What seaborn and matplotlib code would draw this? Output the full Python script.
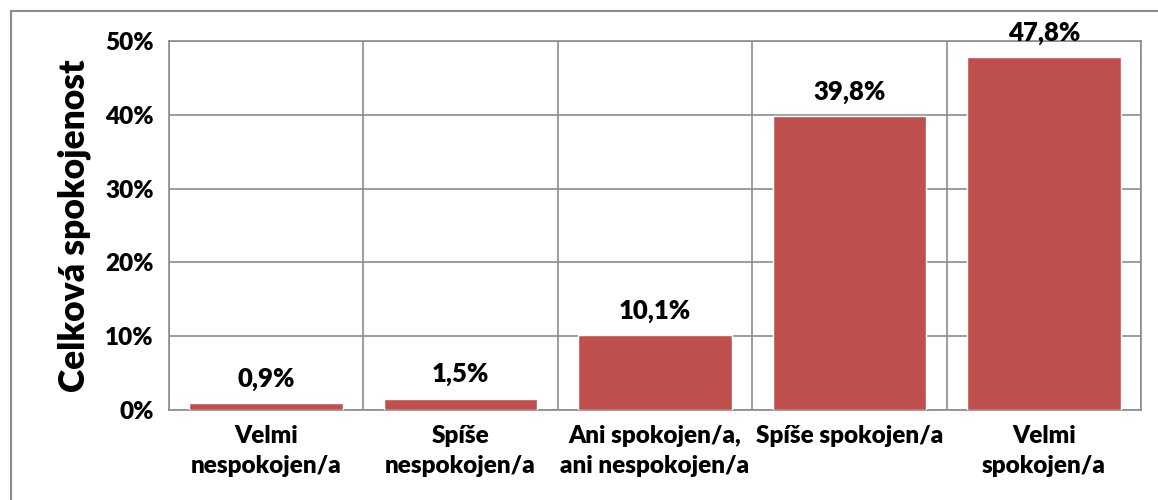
import numpy as np
import pandas as pd
import matplotlib
matplotlib.use('Agg')
from matplotlib import pyplot as plt
from matplotlib.patches import Rectangle
from matplotlib.ticker import PercentFormatter
import seaborn as sns

# values
categories = ['Velmi\nnespokojen/a', 'Spíše\nnespokojen/a', 'Ani spokojen/a,\nani nespokojen/a',
              'Spíše spokojen/a', 'Velmi\nspokojen/a']
shares = [0.009, 0.015, 0.101, 0.398, 0.478]
labels = ['0,9%', '1,5%', '10,1%', '39,8%', '47,8%']

df = pd.DataFrame({'kategorie': categories, 'podil': shares})

sns.set_style('white')
plt.rcParams['font.family'] = ['Lato', 'DejaVu Sans']
plt.rcParams['font.weight'] = 'bold'
plt.rcParams['text.color'] = 'black'
plt.rcParams['xtick.color'] = 'black'
plt.rcParams['ytick.color'] = 'black'
plt.rcParams['axes.labelcolor'] = 'black'

grid_col = '#8c8c8c'
fig = plt.figure(figsize=(11.58, 5), dpi=100)
ax = fig.add_axes([169/1158, 90/500, (1141-169)/1158, (410-41)/500])

sns.barplot(data=df, x='kategorie', y='podil', color='#C0504D', saturation=1,
            width=0.79, ax=ax, zorder=3)

# value labels over the bars
for i, (v, t) in enumerate(zip(shares, labels)):
    ax.annotate(t, (i, v), xytext=(0, 9), textcoords='offset points',
                ha='center', va='bottom', fontsize=18.5, fontweight='heavy',
                annotation_clip=False, zorder=5)

ax.set_xlim(-0.5, 4.5)
ax.set_ylim(0, 0.5)
ax.set_yticks(np.arange(0, 0.51, 0.1))
ax.yaxis.set_major_formatter(PercentFormatter(1.0, decimals=0))
ax.set_xticks(np.arange(-0.5, 4.6, 1.0), minor=True)
ax.grid(axis='y', which='major', color=grid_col, lw=1.2, zorder=0)
ax.grid(axis='x', which='minor', color=grid_col, lw=1.2, zorder=0)
ax.set_axisbelow(True)

ax.tick_params(axis='y', which='major', length=8, width=1.2, color=grid_col,
               labelsize=17.5, pad=3)
ax.tick_params(axis='x', which='major', length=0, labelsize=17.5, pad=11)
ax.tick_params(axis='x', which='minor', length=8, width=1.2, color=grid_col)
for lab in ax.get_xticklabels() + ax.get_yticklabels():
    lab.set_fontweight('heavy')
    lab.set_linespacing(1.45)

for s in ax.spines.values():
    s.set_color(grid_col)
    s.set_linewidth(1.2)

ax.set_xlabel('')
ax.set_ylabel('Celková spokojenost', fontsize=25.5, fontweight='heavy', labelpad=10)

# outer chart border, cut by the image edges
fig.patches.append(Rectangle((11/1158, -0.2), 1.2, 1.2 - 11/500, transform=fig.transFigure,
                             fill=False, edgecolor=grid_col, lw=1.5))

plt.savefig('out.png', dpi=100)
